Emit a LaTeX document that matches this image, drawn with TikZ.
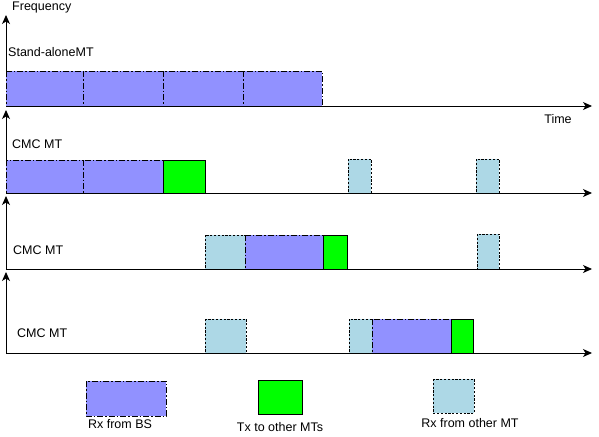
\documentclass[tikz,border=0pt]{standalone}
\usepackage{fontspec}
\setmainfont{Liberation Sans}
\usepackage{tikz}
\usetikzlibrary{arrows.meta, positioning}
\definecolor{rxbsblue}{RGB}{145,145,255}
\definecolor{txgreen}{RGB}{0,255,0}
\definecolor{rxmtblue}{RGB}{173,216,230}
\tikzset{
  rxbs/.style={draw=black, fill=rxbsblue, line width=1pt,
    dash pattern=on 6pt off 2pt on 1.5pt off 2pt},
  txmt/.style={draw=black, fill=txgreen, line width=1pt},
  rxmt/.style={draw=black, fill=rxmtblue, line width=1pt,
    dash pattern=on 2.2pt off 1.6pt},
  axis/.style={-{Stealth[length=9pt, width=8pt, inset=2.5pt]}, line width=1pt, color=black},
  lbl/.style={font=\fontsize{12.5}{15}\selectfont, inner sep=0pt}
}
\begin{document}
\begin{tikzpicture}[x=1pt, y=-1pt]
  \useasboundingbox (0,0) rectangle (599,436);

  % Axes of the four terminals
  \coordinate (O1) at (6,106);
  \coordinate (O2) at (6,193);
  \coordinate (O3) at (6,269);
  \coordinate (O4) at (6,353);
  \coordinate (T1) at (592,106);
  \coordinate (T2) at (592,193);
  \coordinate (T3) at (592,269);
  \coordinate (T4) at (592,353);
  \coordinate (F1) at (6,15);
  \coordinate (F2) at (6,110);
  \coordinate (F3) at (6,196);
  \coordinate (F4) at (6,272);
  \foreach \i in {1,...,4} {
    \draw[axis] (O\i) -- (T\i);
    \draw[axis] (O\i) -- (F\i);
  }
  \node[lbl, anchor=west] (freq) at (12,7) {Frequency};
  \node[lbl] (time) at (558,119) {Time};

  % Stand-alone MT
  \node[lbl, anchor=west] (sa) at (8,52) {Stand-aloneMT};
  \foreach \xa/\xb in {6/83, 83/163, 163/243, 243/322}
    \draw[rxbs] (\xa,71) rectangle (\xb,106);

  % CMC MT, first
  \node[lbl, anchor=west] (cmca) at (12,144) {CMC MT};
  \draw[rxbs] (6,160) rectangle (83,193);
  \draw[rxbs] (83,160) rectangle (163,193);
  \draw[txmt] (163,160) rectangle (205,193);
  \draw[rxmt] (348,159) rectangle (371,193);
  \draw[rxmt] (476,159) rectangle (499,193);

  % CMC MT, second
  \node[lbl, anchor=west] (cmcb) at (13,250) {CMC MT};
  \draw[rxmt] (205,235) rectangle (245,269);
  \draw[rxbs] (245,235) rectangle (323,269);
  \draw[txmt] (323,235) rectangle (347,269);
  \draw[rxmt] (477,234) rectangle (499,269);

  % CMC MT, third
  \node[lbl, anchor=west] (cmcc) at (17,333) {CMC MT};
  \draw[rxmt] (205,319) rectangle (246,353);
  \draw[rxmt] (349,319) rectangle (372,353);
  \draw[rxbs] (372,319) rectangle (451,353);
  \draw[txmt] (451,319) rectangle (473,353);

  % Legend
  \draw[rxbs] (86,381) rectangle (166,416);
  \node[lbl] (lgbs) at (120,424) {Rx from BS};
  \draw[txmt] (258,380) rectangle (302,414);
  \node[lbl] (lgtx) at (280,427) {Tx to other MTs};
  \draw[rxmt] (433,379) rectangle (474,413);
  \node[lbl] (lgmt) at (470,423) {Rx from other MT};
\end{tikzpicture}
\end{document}
